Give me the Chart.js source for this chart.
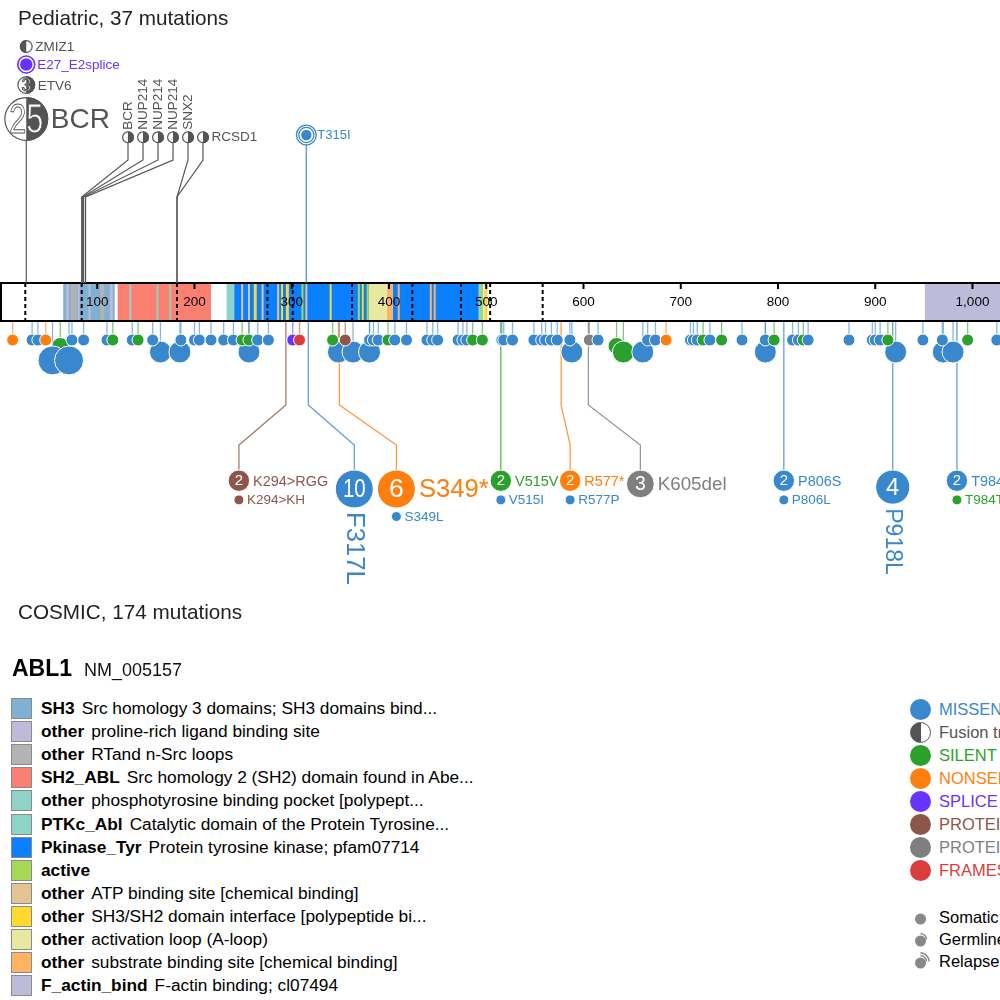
<!DOCTYPE html>
<html><head><meta charset="utf-8">
<script src="https://cdn.jsdelivr.net/npm/chart.js@4/dist/chart.umd.min.js"></script>
<style>
html,body{margin:0;padding:0}
body{width:1000px;height:1000px;overflow:hidden;background:#fff;font-family:"Liberation Sans",Arial,sans-serif;position:relative}
#wrap{position:absolute;left:0;top:0;width:1000px;height:640px}
.h{position:absolute;left:18px;font-size:20.7px;color:#222;white-space:nowrap;line-height:24px}
.lrow{position:absolute;left:11px;height:22px;display:flex;align-items:center;font-size:17.3px;white-space:nowrap;color:#000}
.sw{width:21px;height:21px;box-sizing:border-box;border:1.5px solid #8a8a8a;margin-right:9px;flex:none}
.lrow b{margin-right:7px}
.rrow{position:absolute;left:910px;height:22px;display:flex;align-items:center;font-size:16.5px;white-space:nowrap}
.dot{width:21px;height:21px;border-radius:50%;margin-right:8px;flex:none;box-sizing:border-box}
</style></head><body>
<div id="wrap"><canvas id="c"></canvas></div>
<div class="h" style="top:6px">Pediatric, 37 mutations</div>
<div class="h" style="top:600px">COSMIC, 174 mutations</div>
<div style="position:absolute;left:12px;top:654px;white-space:nowrap;line-height:28px"><b style="font-size:23px">ABL1</b><span style="font-size:18px;margin-left:12px;color:#111">NM_005157</span></div>
<div id="legL"></div><div id="legR"></div>
<script>
// ---------------- DATA ----------------
const proteinLength = 1130;
const tickValues = [100,200,300,400,500,600,700,800,900,1000,1100];
const tickLabels = ['100','200','300','400','500','600','700','800','900','1,000','1,100'];
const exonBoundaries = [26,84,182,275,301,362,424,474,504,558];

const domainNames = ['SH3','other','other','SH2_ABL','other','PTKc_Abl','Pkinase_Tyr','active','other','other','other','other','F_actin_bind'];
const domainDescs = ['Src homology 3 domains; SH3 domains bind...','proline-rich ligand binding site','RTand n-Src loops',
  'Src homology 2 (SH2) domain found in Abe...','phosphotyrosine binding pocket [polypept...','Catalytic domain of the Protein Tyrosine...',
  'Protein tyrosine kinase; pfam07714','','ATP binding site [chemical binding]','SH3/SH2 domain interface [polypeptide bi...',
  'activation loop (A-loop)','substrate binding site [chemical binding]','F-actin binding; cl07494'];
// domain / feature segments (aa start, aa end, domain index)
const segStart = [65,121,233,241,951, 379, 68,80,91,113, 73,103, 133,161,174, 248,255,269,285,314, 261,289,294,339,372,498, 310,368,377,494, 398,409,442,446];
const segEnd   = [118,217,497,492,1130, 404, 71,82,93,116, 79,107, 135,163,176, 250,257,271,287,316, 264,291,297,341,374,501, 312,370,379,496, 404,411,444,448];
const segType  = [0,3,5,6,12, 10, 1,1,1,1, 2,2, 4,4,4, 8,8,8,8,8, 9,9,9,9,9,9, 7,7,7,7, 11,11,11,11];

// COSMIC band (unlabelled lollipops)
const bandPos   = [13,33,39,47,62,54,71,74,86,110,116,136,142,157,165,185,186,200,205,217,230,240,249,256,256,265,276,301,308,342,348,355,363,380,380,384,389,399,406,418,439,445,450,471,476,480,486,496,516,518,527,549,557,561,567,573,586,588,606,615,634,641,661,666,674,685,710,713,717,723,730,742,763,787,787,796,815,821,826,831,873,897,900,905,913,921,949,969,970,980,995,1025];
const bandClass = ['N','M','M','N','S','M','M','M','M','M','S','M','S','M','M','M','M','M','M','M','M','M','S','S','M','M','M','L','F','S','M','I','M','M','M','M','M','S','M','M','M','M','M','M','M','M','S','S','M','M','M','M','M','M','M','M','M','M','D','M','S','S','M','M','M','N','M','M','M','S','M','S','M','M','M','S','M','M','S','M','M','M','M','M','S','M','M','M','M','M','S','M'];
const bandCount = [1,1,1,1,2,5,5,1,1,1,1,1,1,1,3,3,1,1,1,1,1,1,1,1,3,1,1,1,1,1,3,1,3,3,1,1,1,1,1,1,1,1,1,1,1,1,1,1,1,1,1,1,1,1,1,1,1,3,1,1,2,3,3,1,1,1,1,1,1,1,1,1,1,1,3,1,1,1,1,1,1,1,1,1,1,3,1,1,3,3,1,1];

// COSMIC labelled hotspots
const hotNames = ['K294>RGG','F317L','S349*','V515V','R577*','K605del','P806S','P918L','T984I'];
const hotPos   = [294,317,349,515,577,605,806,918,984];
const hotClass = ['I','M','N','S','N','D','M','M','M'];
const hotCount = [2,10,6,2,2,3,2,4,2];
const subNames = ['K294>KH','','S349L','V515I','R577P','','P806L','','T984T'];
const subClass = ['I','','M','M','M','','M','','S'];

// Pediatric (top)
const stackNames = ['BCR','ETV6','E27_E2splice','ZMIZ1'];   // stacked at one position, bottom to top
const stackPos = 27;
const stackClass = ['Fu','Fu','L','Fu'];
const stackCount = [25,3,1,1];
const groupNames = ['BCR','NUP214','NUP214','NUP214','SNX2','RCSD1'];
const groupPos   = [84,85,86,88,182,182];
const groupCount = [1,1,1,1,1,1];
const singleNames = ['T315I'];
const singlePos = [315];
const singleClass = ['M'];

const classNames = ['MISSENSE','Fusion transcript','SILENT','NONSENSE','SPLICE','PROTEININS','PROTEINDEL','FRAMESHIFT'];
const classKeys  = ['M','Fu','S','N','L','I','D','F'];
const originNames = ['Somatic','Germline','Relapse'];

// ---------------- STYLE / LAYOUT ----------------
const CLR = {M:'#3987CC',S:'#2CA02C',N:'#FF7F0E',L:'#6633FF',I:'#8C564B',D:'#7F7F7F',F:'#DB3D3D',Fu:'#545454'};
const domainColors = ['#80b1d3','#bebada','#b3b3b3','#fb8072','#8dd3c7','#8dd3c7','#0a80ff','#a6d854','#e5c494','#ffd92f','#e8e8a0','#fdb462','#bebada'];
const BAR_TOP = 283, BAR_BOT = 321;
const hotOffsetPx = {'K294>RGG':-47,'F317L':46,'S349*':57,'R577*':9,'K605del':52};
const rotatedLabels = ['F317L','P918L'];
const FONT = '"Liberation Sans", Arial, sans-serif';
const bandR = c => [0,6,8.5,11,13,14.5][Math.min(c,5)];
const bandY = r => 340 + (r-6)*2.4;
const hotR = c => Math.min(19, 3.2*c + 4.3);
const hotY = r => 470 + r;
function alpha(hex,a){const n=parseInt(hex.slice(1),16);return `rgba(${n>>16},${(n>>8)&255},${n&255},${a})`;}

// ---------------- DATASETS ----------------
const band = bandPos.map((p,i)=>{const r=bandR(bandCount[i]);return {x:p,y:bandY(r),r,c:CLR[bandClass[i]],n:bandCount[i]};});
function ds(list,order){return {data:list.map(d=>({x:d.x,y:d.y,r:d.r})),backgroundColor:list.map(d=>d.c),borderColor:'#fff',borderWidth:1,hoverRadius:0,order,clip:false};}
const hotMain = hotPos.map((p,i)=>{const r=hotR(hotCount[i]);return {x:p,y:hotY(r),r,c:CLR[hotClass[i]]};});
const hotSub = [];
hotPos.forEach((p,i)=>{ if(subNames[i]){const r=hotMain[i].r;hotSub.push({x:p,y:hotMain[i].y+r+8.5,r:5,c:CLR[subClass[i]],i});}});

const datasets = [
  ds(band.filter(d=>d.n===1),1),
  ds(band.filter(d=>d.n>=3),2),
  ds(band.filter(d=>d.n===2),3),
  ds(hotMain,0),
  ds(hotSub,0)
];
// hot discs are shifted horizontally by layout offsets (pixels)
const offsetPlugin = {
  id:'offs',
  afterDatasetsUpdate(chart){
    [3,4].forEach(di=>{
      const meta = chart.getDatasetMeta(di);
      meta.data.forEach((el,k)=>{
        const idx = di===3 ? k : hotSub[k].i;
        const off = hotOffsetPx[hotNames[idx]]||0;
        el.x = chart.scales.x.getPixelForValue(hotPos[idx]) + off;
      });
    });
  }
};

function fusionGlyph(ctx,cx,cy,r,leftDark,count){
  ctx.beginPath();ctx.arc(cx,cy,r,0,2*Math.PI);ctx.fillStyle='#fff';ctx.fill();
  ctx.beginPath();
  if(leftDark) ctx.arc(cx,cy,r,Math.PI/2,Math.PI*1.5); else ctx.arc(cx,cy,r,-Math.PI/2,Math.PI/2);
  ctx.closePath();ctx.fillStyle=CLR.Fu;ctx.fill();
  ctx.beginPath();ctx.arc(cx,cy,r-0.6,0,2*Math.PI);ctx.strokeStyle=CLR.Fu;ctx.lineWidth=1.2;ctx.stroke();
  if(count>1){
    const fs=1.95*r; ctx.font=`${fs}px ${FONT}`;ctx.textAlign='center';ctx.textBaseline='middle';
    ctx.fillStyle='#fff';ctx.fillText(String(count),cx,cy+fs*0.04,1.55*r);
    ctx.strokeStyle=CLR.Fu;ctx.lineWidth=1;ctx.strokeText(String(count),cx,cy+fs*0.04,1.55*r);
  }
}

const proteinPlugin = {
  id:'protein',
  beforeDatasetsDraw(chart){
    const {ctx,scales:{x,y}} = chart;
    const X=v=>x.getPixelForValue(v), Y=v=>y.getPixelForValue(v);
    const t=Y(BAR_TOP), b=Y(BAR_BOT);
    ctx.save();
    ctx.fillStyle='#fff';ctx.fillRect(X(0),t,X(proteinLength)-X(0),b-t);
    segStart.forEach((s,i)=>{ctx.fillStyle=domainColors[segType[i]];ctx.fillRect(X(s),t,X(segEnd[i])-X(s),b-t);});
    ctx.strokeStyle='#000';ctx.lineWidth=2;ctx.setLineDash([4,3]);
    exonBoundaries.forEach(e=>{ctx.beginPath();ctx.moveTo(X(e),t);ctx.lineTo(X(e),b);ctx.stroke();});
    ctx.setLineDash([]);
    ctx.fillStyle='#000';ctx.font=`13.5px ${FONT}`;ctx.textAlign='center';ctx.textBaseline='middle';
    tickValues.forEach((v,i)=>{ctx.beginPath();ctx.moveTo(X(v),t);ctx.lineTo(X(v),t+6);ctx.lineWidth=2;ctx.stroke();ctx.fillText(tickLabels[i],X(v),Y(302));});
    ctx.lineWidth=2;ctx.strokeStyle='#000';ctx.strokeRect(X(0)+1,t,X(proteinLength)-X(0),b-t);
    band.forEach(d=>{ctx.beginPath();ctx.moveTo(X(d.x),b+1);ctx.lineTo(X(d.x),Y(d.y));ctx.strokeStyle=alpha(d.c,0.6);ctx.lineWidth=1.3;ctx.stroke();});
    hotPos.forEach((p,i)=>{
      const x0=X(p), off=hotOffsetPx[hotNames[i]]||0, r=hotMain[i].r, yd=Y(hotMain[i].y)-r;
      ctx.beginPath();ctx.moveTo(x0,b+1);
      if(off){ctx.lineTo(x0,Y(405));ctx.lineTo(x0+off,Y(445));}
      ctx.lineTo(x0+off,yd);ctx.strokeStyle=alpha(CLR[hotClass[i]],0.85);ctx.lineWidth=1.2;ctx.stroke();
    });
    ctx.strokeStyle='#555';ctx.lineWidth=1.2;
    ctx.beginPath();ctx.moveTo(X(stackPos),Y(141));ctx.lineTo(X(stackPos),t);ctx.stroke();
    groupPos.forEach((p,i)=>{
      const gx=128+15*i;
      ctx.beginPath();ctx.moveTo(gx,Y(143));ctx.lineTo(gx,Y(160));ctx.lineTo(X(p),Y(197));ctx.lineTo(X(p),t);ctx.stroke();
    });
    singlePos.forEach((p,i)=>{ctx.beginPath();ctx.moveTo(X(p),Y(145));ctx.lineTo(X(p),t);ctx.strokeStyle=alpha(CLR[singleClass[i]],0.8);ctx.lineWidth=1.5;ctx.stroke();});
    ctx.restore();
  },
  afterDatasetsDraw(chart){
    const {ctx,scales:{x,y}} = chart;
    const X=v=>x.getPixelForValue(v), Y=v=>y.getPixelForValue(v);
    ctx.save();
    ctx.textBaseline='middle';
    hotPos.forEach((p,i)=>{
      const off=hotOffsetPx[hotNames[i]]||0, cx=X(p)+off, r=hotMain[i].r, cy=Y(hotMain[i].y);
      const fs=1.4*r;
      ctx.font=`${fs}px ${FONT}`;ctx.textAlign='center';ctx.fillStyle='#fff';
      ctx.fillText(String(hotCount[i]),cx,cy+fs*0.04,1.2*r);
      const lf=1.35*r; ctx.font=`${lf}px ${FONT}`;ctx.fillStyle=CLR[hotClass[i]];
      if(rotatedLabels.includes(hotNames[i])){
        ctx.save();ctx.translate(cx,cy+r+4);ctx.rotate(Math.PI/2);ctx.textAlign='left';ctx.fillText(hotNames[i],0,0);ctx.restore();
      } else {ctx.textAlign='left';ctx.fillText(hotNames[i],cx+r+3.5,cy+1);}
      if(subNames[i]){
        ctx.font=`13.5px ${FONT}`;ctx.fillStyle=CLR[subClass[i]];ctx.textAlign='left';
        ctx.fillText(subNames[i],cx+8,cy+r+8.5+0.5);
      }
    });
    let yb=141;
    const stackR=[22,9,8.5,6.5];
    stackNames.forEach((n,i)=>{
      const r=stackR[i], cy=yb-r, cx=X(stackPos);
      if(stackClass[i]==='Fu') fusionGlyph(ctx,cx,cy,r,n==='ZMIZ1',stackCount[i]);
      else {
        ctx.beginPath();ctx.arc(cx,cy,r,0,2*Math.PI);ctx.strokeStyle=CLR[stackClass[i]];ctx.lineWidth=1.6;ctx.stroke();
        ctx.beginPath();ctx.arc(cx,cy,r-2.3,0,2*Math.PI);ctx.fillStyle=CLR[stackClass[i]];ctx.fill();
      }
      const fs = stackCount[i]>10?28:13.5;
      ctx.font=`${fs}px ${FONT}`;ctx.textAlign='left';ctx.fillStyle=stackClass[i]==='Fu'?'#545454':CLR[stackClass[i]];
      ctx.fillText(n,cx+r+2.5,cy+1);
      yb = cy - r - 3;
    });
    groupNames.forEach((n,i)=>{
      const gx=128+15*i, cy=Y(137.3);
      fusionGlyph(ctx,gx,cy,6,false,groupCount[i]);
      ctx.font=`13.5px ${FONT}`;ctx.fillStyle='#545454';
      if(i<groupNames.length-1){
        ctx.save();ctx.translate(gx,cy-7.5);ctx.rotate(-Math.PI/2);ctx.textAlign='left';ctx.textBaseline='middle';ctx.fillText(n,0,0.5);ctx.restore();
      } else {ctx.textAlign='left';ctx.fillText(n,gx+8.5,cy);}
    });
    singlePos.forEach((p,i)=>{
      const cx=X(p), cy=Y(135), c=CLR[singleClass[i]];
      ctx.beginPath();ctx.arc(cx,cy,5.2,0,2*Math.PI);ctx.fillStyle=c;ctx.fill();
      ctx.lineWidth=1.3;ctx.strokeStyle=c;
      [7.6,9.9].forEach(rr=>{ctx.beginPath();ctx.arc(cx,cy,rr,0,2*Math.PI);ctx.stroke();});
      ctx.font=`13px ${FONT}`;ctx.textAlign='left';ctx.fillStyle=c;ctx.fillText(singleNames[i],cx+11,cy+0.5);
    });
    ctx.restore();
  }
};

new Chart(document.getElementById('c'),{
  type:'bubble',
  data:{datasets},
  options:{
    responsive:true,maintainAspectRatio:false,animation:false,events:[],
    layout:{padding:0,autoPadding:false},
    plugins:{legend:{display:false},tooltip:{enabled:false}},
    scales:{
      x:{type:'linear',min:0,max:1000/0.9725,display:false},
      y:{type:'linear',min:0,max:640,reverse:true,display:false}
    }
  },
  plugins:[offsetPlugin,proteinPlugin]
});

// ---------------- LEGENDS ----------------
const legL=document.getElementById('legL');
domainNames.forEach((n,i)=>{
  const row=document.createElement('div');row.className='lrow';row.style.top=(708.3+i*23.14-11)+'px';
  row.innerHTML=`<span class="sw" style="background:${domainColors[i]}"></span><b>${n}</b>${domainDescs[i]?'<span>'+domainDescs[i]+'</span>':''}`;
  legL.appendChild(row);
});
const legR=document.getElementById('legR');
classNames.forEach((n,i)=>{
  const k=classKeys[i];
  const row=document.createElement('div');row.className='rrow';row.style.top=(709.3+i*22.96-11)+'px';
  const dot = k==='Fu' ? `<span class="dot" style="background:linear-gradient(to right,#545454 50%,#fff 50%);border:1.5px solid #545454"></span>`
                       : `<span class="dot" style="background:${CLR[k]}"></span>`;
  row.innerHTML=dot+`<span style="color:${CLR[k]}">${n}</span>`;
  legR.appendChild(row);
});
originNames.forEach((n,i)=>{
  const row=document.createElement('div');row.className='rrow';row.style.top=(917.7+i*22-11)+'px';
  let arcs='';
  if(i>=1) arcs+='<path d="M10.5 4.5 A6.5 6.5 0 0 1 16.5 10.5" fill="none" stroke="#888" stroke-width="1.6"/>';
  if(i>=2) arcs+='<path d="M10.5 1.8 A9.2 9.2 0 0 1 19.2 10.5" fill="none" stroke="#888" stroke-width="1.6"/>';
  row.innerHTML=`<svg width="21" height="21" style="margin-right:8px;flex:none"><circle cx="10.5" cy="12" r="5.5" fill="#888"/>${arcs}</svg><span style="color:#000">${n}</span>`;
  legR.appendChild(row);
});
</script>
</body></html>
